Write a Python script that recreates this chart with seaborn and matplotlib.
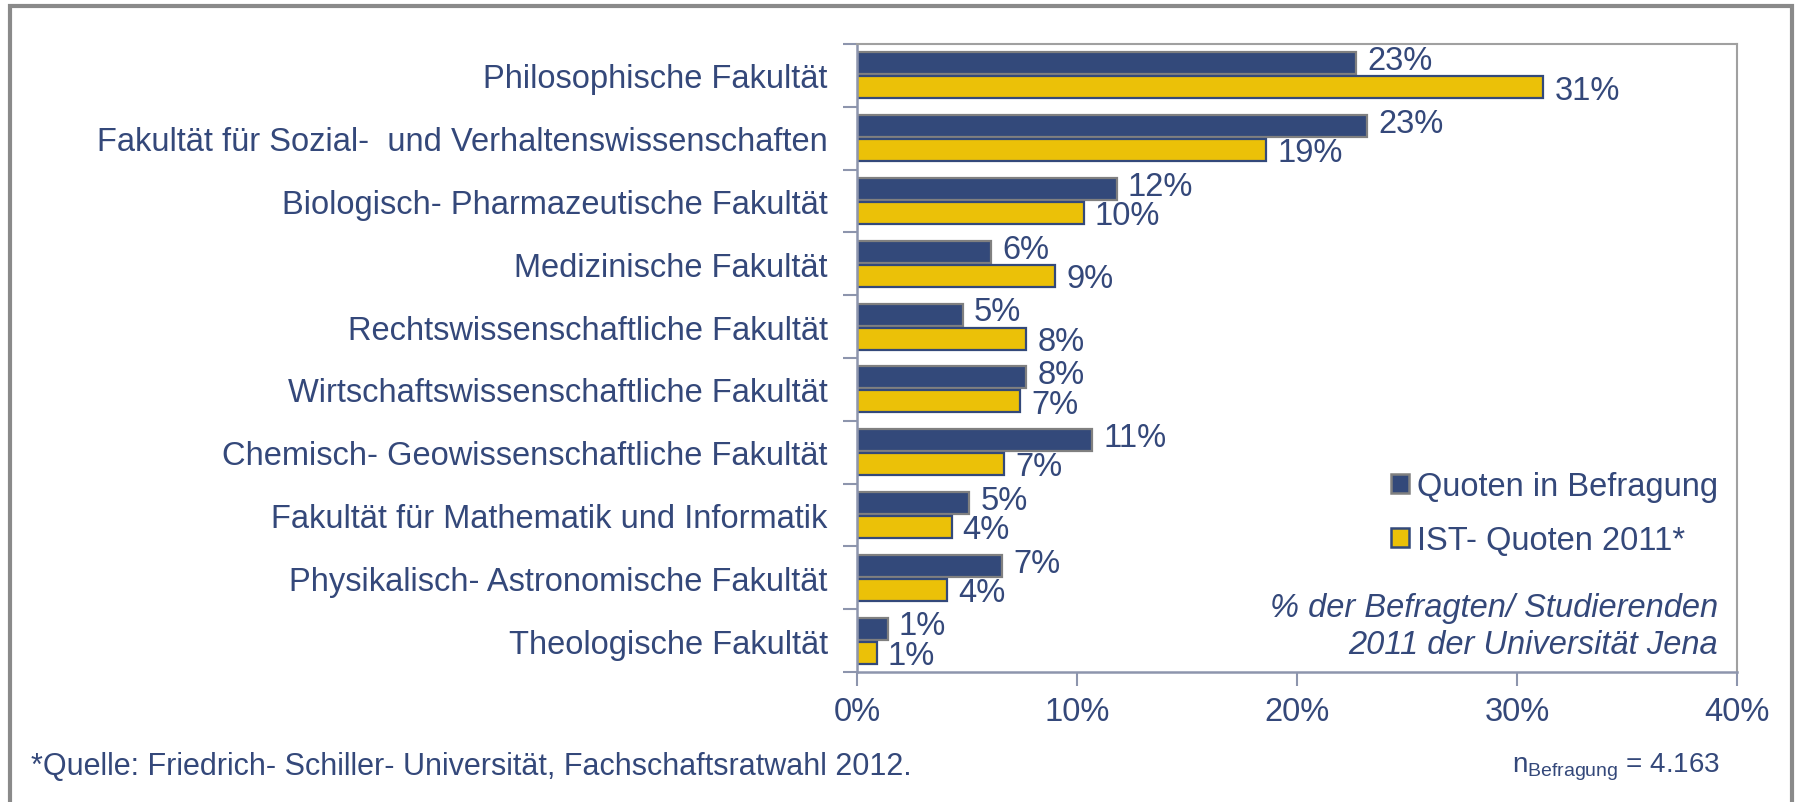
import numpy as np
import pandas as pd
import matplotlib
matplotlib.use("Agg")
import matplotlib.pyplot as plt
from matplotlib.patches import Patch, Rectangle
import seaborn as sns

# Faculties (top to bottom)
fakultaeten = [
    "Philosophische Fakultät",
    "Fakultät für Sozial-  und Verhaltenswissenschaften",
    "Biologisch- Pharmazeutische Fakultät",
    "Medizinische Fakultät",
    "Rechtswissenschaftliche Fakultät",
    "Wirtschaftswissenschaftliche Fakultät",
    "Chemisch- Geowissenschaftliche Fakultät",
    "Fakultät für Mathematik und Informatik",
    "Physikalisch- Astronomische Fakultät",
    "Theologische Fakultät",
]

# Shares in percent
quoten_befragung = [22.7, 23.2, 11.8, 6.1, 4.8, 7.7, 10.7, 5.1, 6.6, 1.4]
ist_quoten_2011 = [31.2, 18.6, 10.3, 9.0, 7.7, 7.4, 6.7, 4.3, 4.1, 0.9]

# Printed value labels
labels_befragung = ["23%", "23%", "12%", "6%", "5%", "8%", "11%", "5%", "7%", "1%"]
labels_ist = ["31%", "19%", "10%", "9%", "8%", "7%", "7%", "4%", "4%", "1%"]

series_names = ["Quoten in Befragung", "IST- Quoten 2011*"]
x_ticks = [0, 10, 20, 30, 40]

navy = "#33497a"
yellow = "#ebc108"
text_col = "#34487a"
spine_col = "#8d95ad"
fs = 23.5

df = pd.DataFrame({
    "Fakultät": fakultaeten * 2,
    "Anteil": quoten_befragung + ist_quoten_2011,
    "Serie": [series_names[0]] * len(fakultaeten) + [series_names[1]] * len(fakultaeten),
})

sns.set_style("white")
plt.rcParams["font.family"] = ["Liberation Sans", "DejaVu Sans"]
plt.rcParams["mathtext.fontset"] = "custom"
plt.rcParams["mathtext.rm"] = "Liberation Sans"

fig = plt.figure(figsize=(17.98, 8.03), dpi=100)
ax = fig.add_axes([857 / 1798, 1 - 673 / 803, (1737 - 857) / 1798, (673 - 45) / 803])

sns.barplot(data=df, y="Fakultät", x="Anteil", hue="Serie", order=fakultaeten,
            hue_order=series_names, palette=[navy, yellow], saturation=1, orient="h",
            width=0.76, gap=0.08, legend=False, ax=ax)

edge_cols = ["#808080", navy]
label_sets = [labels_befragung, labels_ist]
y_shift = [2.0, -2.0]  # pull the two value labels of a group slightly apart
for cont, ec, labs, dy in zip(ax.containers, edge_cols, label_sets, y_shift):
    for bar in cont:
        bar.set_edgecolor(ec)
        bar.set_linewidth(1.6)
    anns = ax.bar_label(cont, labels=labs, padding=8, fontsize=fs, color=text_col)
    for a in anns:
        a.xyann = (a.xyann[0], dy)

ax.set_xlim(0, 40)
ax.set_ylim(len(fakultaeten) - 0.5, -0.5)
ax.set_xticks(x_ticks)
ax.set_xticklabels([f"{t}%" for t in x_ticks])
ax.set_xlabel("")
ax.set_ylabel("")

# category ticks sit between the groups
ax.set_yticks(np.arange(-0.5, len(fakultaeten) + 0.5), minor=True)
ax.tick_params(axis="y", which="major", length=0, pad=21, labelsize=fs, labelcolor=text_col)
ax.tick_params(axis="y", which="minor", length=10, width=1.5, color=spine_col, direction="out", left=True)
ax.tick_params(axis="x", length=10, width=1.5, color=spine_col, direction="out", bottom=True,
               labelsize=fs, labelcolor=text_col, pad=7)

for side in ["left", "bottom"]:
    ax.spines[side].set_color(spine_col)
    ax.spines[side].set_linewidth(1.8)
for side in ["top", "right"]:
    ax.spines[side].set_color("#a0a0a0")
    ax.spines[side].set_linewidth(1.5)

handles = [Patch(facecolor=navy, edgecolor="#808080", linewidth=1.8),
           Patch(facecolor=yellow, edgecolor=navy, linewidth=1.8)]
leg = fig.legend(handles, series_names, loc="upper left", bbox_to_anchor=(1378 / 1798, 1 - 459 / 803),
                 frameon=False, fontsize=fs, handlelength=0.55, handleheight=0.55,
                 handletextpad=0.25, labelspacing=0.7, borderaxespad=0)
for t in leg.get_texts():
    t.set_color(text_col)

fig.text(1718 / 1798, 1 - 608 / 803, "% der Befragten/ Studierenden", ha="right", va="center",
         fontsize=fs, style="italic", color=text_col)
fig.text(1718 / 1798, 1 - 646 / 803, "2011 der Universität Jena", ha="right", va="center",
         fontsize=fs, style="italic", color=text_col)

fig.text(31 / 1798, 1 - 767 / 803, "*Quelle: Friedrich- Schiller- Universität, Fachschaftsratwahl 2012.",
         ha="left", va="center", fontsize=22, color=text_col)
fig.text(1720 / 1798, 1 - 767 / 803, r"n$_{\mathrm{Befragung}}$ = 4.163",
         ha="right", va="center", fontsize=20, color=text_col)

# outer frame of the slide
fig.patches.append(Rectangle((10 / 1798, -0.05), (1792 - 10) / 1798, 1 - 7 / 803 + 0.05,
                             transform=fig.transFigure, fill=False, edgecolor="#8a8a8a",
                             linewidth=3, zorder=0))

fig.savefig("out.png", dpi=100)
